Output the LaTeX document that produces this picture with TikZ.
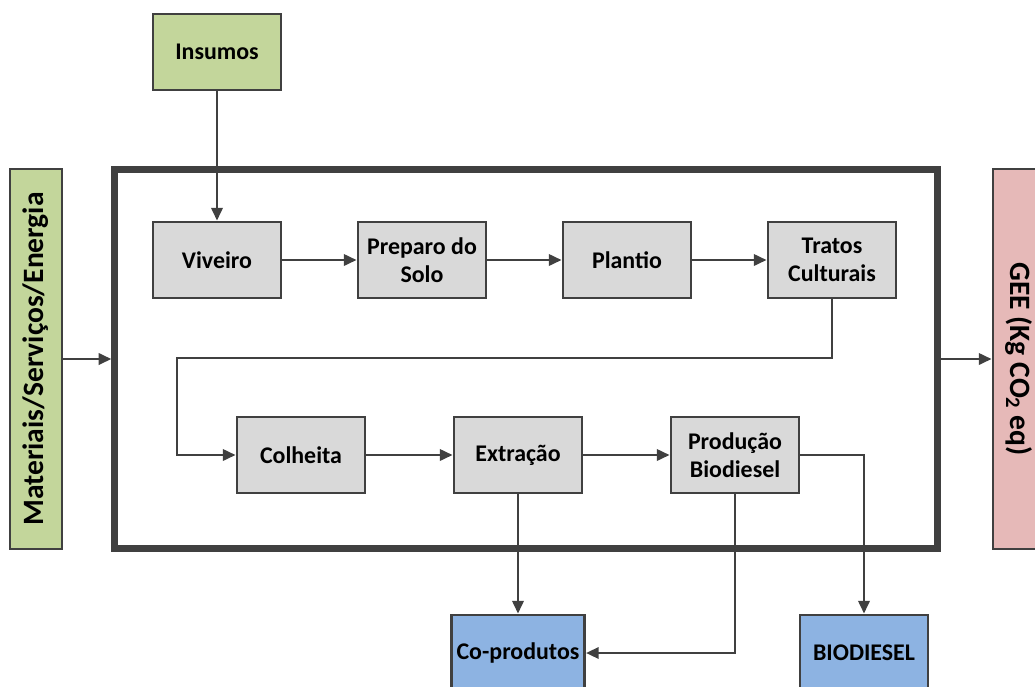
\documentclass[tikz,border=0pt]{standalone}
\usepackage{fontspec}
\setmainfont{Carlito}
\usetikzlibrary{arrows.meta}
\definecolor{linha}{HTML}{404040}
\definecolor{cinza}{HTML}{D9D9D9}
\definecolor{verde}{HTML}{C3D69B}
\definecolor{azul}{HTML}{8DB3E2}
\definecolor{rosa}{HTML}{E6B9B8}

\begin{document}
\begin{tikzpicture}[x=0.025cm,y=-0.025cm,
    >={Triangle[length=9pt,width=8pt]},
    caixa/.style={draw=linha,line width=2pt,fill=cinza,minimum width=3.2cm,minimum height=1.9cm,
        align=center,inner sep=2pt,font=\fontsize{17}{20}\selectfont\bfseries},
    lateral/.style={caixa,minimum width=9.5cm,minimum height=1.3cm,font=\fontsize{21}{24}\selectfont\bfseries},
    seta/.style={->,draw=linha,line width=1.8pt}]

\useasboundingbox (0,0) rectangle (1035,686);

    % caixa do sistema
    \node[draw=linha,line width=5pt,minimum width=20.55cm,minimum height=9.45cm] (sistema) at (526,359) {};

    \node[caixa,fill=verde] (insumos) at (217,52) {Insumos};
    \node[lateral,fill=verde,rotate=90] (materiais) at (36,359) {Materiais/Serviços/Energia};
    \node[lateral,fill=rosa,rotate=-90] (gee) at (1019,359) {GEE (Kg CO\textsubscript{2} eq)};

	\node[caixa] (viveiro) at (217,260) {Viveiro};
	\node[caixa] (preparo) at (422,260) {Preparo do\\Solo};
	\node[caixa] (plantio) at (627,260) {Plantio};
	\node[caixa] (tratos) at (832,260) {Tratos\\Culturais};
	\node[caixa] (colheita) at (301,455) {Colheita};
	\node[caixa] (extracao) at (518,455) {Extração};
	\node[caixa] (producao) at (735,455) {Produção\\Biodiesel};

	\node[caixa,fill=azul,minimum width=3.33cm] (coprod) at (518,653) {Co-produtos};
	\node[caixa,fill=azul] (biodiesel) at (864,653) {BIODIESEL};

\coordinate (volta) at (177,358);

\draw[seta] (insumos) -- (viveiro);
\draw[seta] (materiais) -- (sistema.west);
\draw[seta] (sistema.east) -- (gee);
\draw[seta] (viveiro) -- (preparo);
\draw[seta] (preparo) -- (plantio);
\draw[seta] (plantio) -- (tratos);
\draw[seta] (tratos.south) |- (volta) |- (colheita.west);
\draw[seta] (colheita) -- (extracao);
\draw[seta] (extracao) -- (producao);
\draw[seta] (extracao) -- (coprod);
\draw[seta] (producao.south) |- (coprod.east);
\draw[seta] (producao.east) -| (biodiesel.north);

\end{tikzpicture}
\end{document}
